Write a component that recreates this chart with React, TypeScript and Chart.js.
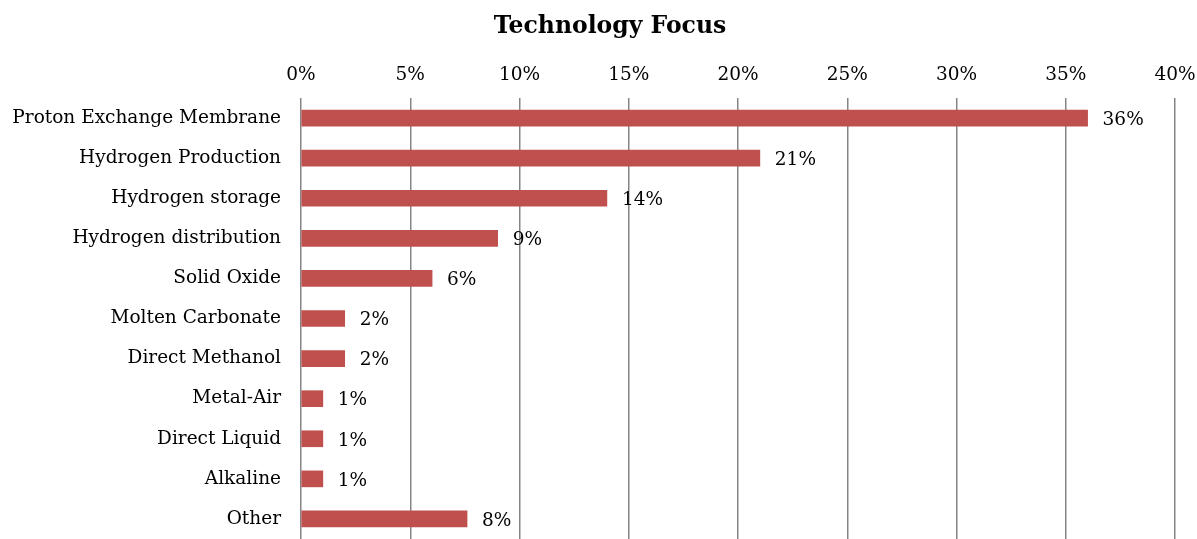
import React, { useEffect, useRef } from "react";
import { Chart, registerables } from "chart.js";

Chart.register(...registerables);

const titleText = "Technology Focus";
const categories = [
  "Proton Exchange Membrane",
  "Hydrogen Production",
  "Hydrogen storage",
  "Hydrogen distribution",
  "Solid Oxide",
  "Molten Carbonate",
  "Direct Methanol",
  "Metal-Air",
  "Direct Liquid",
  "Alkaline",
  "Other",
];
const values = [36, 21, 14, 9, 6, 2, 2, 1, 1, 1, 7.6];
const valueLabels = ["36%", "21%", "14%", "9%", "6%", "2%", "2%", "1%", "1%", "1%", "8%"];
const axisMin = 0;
const axisMax = 40;
const axisStep = 5;

const FONT = "'DejaVu Serif', 'Liberation Serif', serif";
const BAR_COLOR = "#C0504D";
const GRID_COLOR = "#858585";

export default function App() {
  const canvasRef = useRef<HTMLCanvasElement | null>(null);

  useEffect(() => {
    const canvas = canvasRef.current;
    if (!canvas) return;

    const titlePlugin = {
      id: "customTitle",
      afterDraw(chart: any) {
        const ctx = chart.ctx;
        ctx.save();
        ctx.font = `bold 23.5px ${FONT}`;
        ctx.fillStyle = "#000";
        ctx.textAlign = "center";
        ctx.textBaseline = "middle";
        ctx.fillText(titleText, 610, 27);
        ctx.restore();
      },
    };

    const valueLabelPlugin = {
      id: "valueLabels",
      afterDatasetsDraw(chart: any) {
        const ctx = chart.ctx;
        const meta = chart.getDatasetMeta(0);
        ctx.save();
        ctx.font = `18.5px ${FONT}`;
        ctx.fillStyle = "#000";
        ctx.textAlign = "left";
        ctx.textBaseline = "middle";
        meta.data.forEach((bar: any, i: number) => {
          ctx.fillText(valueLabels[i], bar.x + 15, bar.y + 2);
        });
        ctx.restore();
      },
    };

    const chart = new Chart(canvas, {
      type: "bar",
      data: {
        labels: categories,
        datasets: [
          {
            data: values,
            backgroundColor: BAR_COLOR,
            borderWidth: 0,
            barThickness: 16,
          },
        ],
      },
      options: {
        indexAxis: "y",
        responsive: false,
        animation: false,
        layout: { padding: { top: 50, right: 22, bottom: 0, left: 0 } },
        plugins: {
          legend: { display: false },
          title: { display: false },
          tooltip: { enabled: false },
        },
        scales: {
          x: {
            position: "top",
            min: axisMin,
            max: axisMax,
            afterFit(scale: any) {
              scale.height = 48;
              scale.paddingLeft = 0;
              scale.paddingRight = 0;
              scale.paddingTop = 0;
              scale.paddingBottom = 0;
            },
            ticks: {
              stepSize: axisStep,
              padding: 12,
              color: "#000",
              font: { family: FONT, size: 18.5 },
              callback: (v: any) => `${v}%`,
            },
            grid: {
              display: true,
              color: GRID_COLOR,
              lineWidth: 1.5,
              drawTicks: false,
            },
            border: { display: false },
          },
          y: {
            afterFit(scale: any) {
              scale.width = 301;
              scale.paddingLeft = 0;
              scale.paddingRight = 0;
              scale.paddingTop = 0;
              scale.paddingBottom = 0;
            },
            ticks: {
              padding: 20,
              color: "#000",
              font: { family: FONT, size: 18.5 },
            },
            grid: { display: false, drawTicks: false },
            border: { display: false },
          },
        },
      },
      plugins: [titlePlugin, valueLabelPlugin],
    });

    return () => chart.destroy();
  }, []);

  return (
    <div style={{ position: "fixed", left: 0, top: 0, width: 1197, height: 539, background: "#fff" }}>
      <canvas ref={canvasRef} width={1197} height={539} />
    </div>
  );
}
